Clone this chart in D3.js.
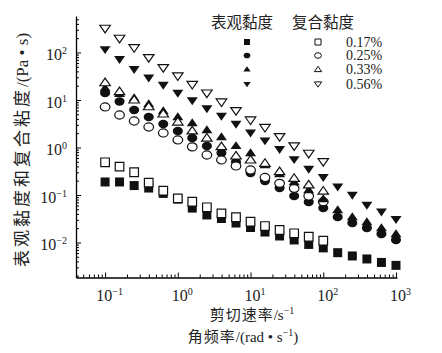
<!DOCTYPE html>
<html>
<head>
<meta charset="utf-8">
<script src="https://cdn.jsdelivr.net/npm/d3@7"></script>
<style>
  body { margin: 0; background: #fff; }
  svg { display: block; }
</style>
</head>
<body>
<script>
const width = 442;
const height = 353;

// shear rate / angular frequency (s^-1)
const rates = [0.1, 0.158, 0.251, 0.398, 0.631, 1, 1.58, 2.51, 3.98, 6.31, 10,
               15.8, 25.1, 39.8, 63.1, 100, 158, 251, 398, 631, 1000];

// apparent viscosity (filled), Pa·s
const apparent017 = [0.188, 0.188, 0.158, 0.140, 0.108, 0.082, 0.053, 0.038, 0.032, 0.0257, 0.0207,
                     0.0166, 0.0137, 0.0113, 0.0091, 0.0077, 0.0061, 0.0052, 0.0045, 0.0038, 0.0033];
const apparent025 = [14.0, 9.30, 6.15, 4.39, 3.12, 2.23, 1.58, 1.08, 0.766, 0.495, 0.290,
                     0.197, 0.140, 0.095, 0.071, 0.053, 0.0344, 0.0258, 0.0202, 0.0151, 0.0113];
const apparent033 = [17.9, 13.4, 11.0, 8.24, 5.86, 4.39, 3.28, 2.33, 1.66, 1.08, 0.766,
                     0.428, 0.277, 0.188, 0.127, 0.082, 0.0483, 0.0344, 0.0270, 0.0202, 0.0151];
const apparent056 = [116.7, 72, 44.3, 29.4, 20.7, 14.0, 9.75, 6.62, 4.60, 3.12, 2.05,
                     1.40, 0.917, 0.564, 0.352, 0.236, 0.150, 0.100, 0.0616, 0.0445, 0.0308];

// complex viscosity (open), Pa·s
const complex017 = [0.488, 0.395, 0.301, 0.182, 0.123, 0.085, 0.072, 0.055, 0.041, 0.034, 0.0274,
                    0.0222, 0.0183, 0.0156, 0.0132, 0.0109];
const complex025 = [7.13, 4.83, 3.61, 2.70, 2.02, 1.44, 1.03, 0.695, 0.546, 0.408, 0.336,
                    0.234, 0.176, 0.138, 0.095, 0.072];
const complex033 = [23.1, 15.0, 10.0, 7.22, 5.07, 3.44, 2.23, 1.58, 1.04, 0.662, 0.546,
                    0.465, 0.310, 0.225, 0.163, 0.121];
const complex056 = [323, 199, 126, 77.8, 47.9, 32.0, 21.2, 14.0, 9.07, 5.96, 3.79,
                    2.64, 1.69, 1.08, 0.755, 0.503];

const concentrations = ['0.17%', '0.25%', '0.33%', '0.56%'];
const shapes = ['square', 'circle', 'up', 'down'];
const apparentSeries = [apparent017, apparent025, apparent033, apparent056];
const complexSeries = [complex017, complex025, complex033, complex056];

const serif = '"Liberation Serif", "Times New Roman", serif';
const cjk = '"Noto Sans CJK SC", sans-serif';

let svg = d3.select('body')
            .append('svg')
            .attr('width', width)
            .attr('height', height);

let xScale = d3.scaleLog()
               .domain([Math.pow(10, -1.4), Math.pow(10, 3.014)])
               .range([76, 397]);

let yScale = d3.scaleLog()
               .domain([Math.pow(10, -2.737), Math.pow(10, 2.768)])
               .range([277.5, 16]);

function logTicks(scale){
    let [a, b] = scale.domain();
    let out = [];
    for(let n = -4; n <= 4; n++){
        for(let k = 1; k <= 9; k++){
            let v = k * Math.pow(10, n);
            if(v >= a * 0.999 && v <= b * 1.001) out.push(v);
        }
    }
    return out;
}
const isMajor = v => Math.abs(Math.log10(v) - Math.round(Math.log10(v))) < 1e-6;

function supLabel(sel, v){
    let e = Math.round(Math.log10(v));
    sel.text(null);
    sel.append('tspan').text('10');
    sel.append('tspan')
       .attr('dy', -6)
       .attr('font-size', 10)
       .text(e < 0 ? '\u2212' + (-e) : e);
}

// x axis
let xAxis = d3.axisBottom(xScale)
              .tickValues(logTicks(xScale))
              .tickSizeInner(-3)
              .tickSizeOuter(0)
              .tickPadding(12)
              .tickFormat(d => isMajor(d) ? 'x' : '');
let gx = svg.append('g')
   .attr('transform', `translate(0, 277.5)`)
   .call(xAxis);
gx.selectAll('.tick line').attr('y2', d => isMajor(d) ? -5 : -3).attr('stroke-width', 1);
gx.select('.domain').attr('stroke-width', 1.3);
gx.selectAll('.tick text')
  .attr('font-family', serif)
  .attr('font-size', 16)
  .attr('fill', '#222')
  .attr('dx', 4)
  .each(function(d){ if(isMajor(d)) supLabel(d3.select(this), d); });

// y axis
let yAxis = d3.axisLeft(yScale)
              .tickValues(logTicks(yScale))
              .tickSizeInner(-3)
              .tickSizeOuter(0)
              .tickPadding(12)
              .tickFormat(d => isMajor(d) ? 'x' : '');
let gy = svg.append('g')
   .attr('transform', `translate(76, 0)`)
   .call(yAxis);
gy.selectAll('.tick line').attr('x2', d => isMajor(d) ? 5 : 3).attr('stroke-width', 1);
gy.select('.domain').attr('stroke-width', 1.3);
gy.selectAll('.tick text')
  .attr('font-family', serif)
  .attr('font-size', 16)
  .attr('fill', '#222')
  .attr('x', -9)
  .attr('dy', '0.45em')
  .each(function(d){ if(isMajor(d)) supLabel(d3.select(this), d); });

// marker paths
function markerPath(shape, s){
    if(shape === 'square'){
        return `M${-s/2},${-s/2}h${s}v${s}h${-s}Z`;
    }
    if(shape === 'circle'){
        let rx = s * 0.56, ry = s * 0.47;
        return `M${-rx},0a${rx},${ry} 0 1,0 ${2*rx},0a${rx},${ry} 0 1,0 ${-2*rx},0Z`;
    }
    let w = s * 1.22, h = s * 0.88;
    if(shape === 'up'){
        return `M0,${-h*0.6}L${w/2},${h*0.4}L${-w/2},${h*0.4}Z`;
    }
    return `M0,${h*0.6}L${w/2},${-h*0.4}L${-w/2},${-h*0.4}Z`;
}

let plot = svg.append('g');

apparentSeries.forEach((series, i) => {
    // filled markers first, then open markers on top
    plot.append('g')
        .selectAll('path')
        .data(series)
        .enter()
        .append('path')
        .attr('d', markerPath(shapes[i], 9))
        .attr('transform', (d, j) => `translate(${xScale(rates[j])}, ${yScale(d)})`)
        .attr('fill', '#111');

    plot.append('g')
        .selectAll('path')
        .data(complexSeries[i])
        .enter()
        .append('path')
        .attr('d', markerPath(shapes[i], 8.6))
        .attr('transform', (d, j) => `translate(${xScale(rates[j])}, ${yScale(d)})`)
        .attr('fill', '#fff')
        .attr('stroke', '#111')
        .attr('stroke-width', 1.2);
});

// legend
let legend = svg.append('g');
legend.append('text')
      .attr('x', 211).attr('y', 28)
      .attr('font-family', cjk).attr('font-size', 15.5).attr('fill', '#222')
      .text('表观黏度');
legend.append('text')
      .attr('x', 292).attr('y', 28)
      .attr('font-family', cjk).attr('font-size', 15.5).attr('fill', '#222')
      .text('复合黏度');

const rowY = [42, 55.5, 69.5, 84];
concentrations.forEach((c, i) => {
    legend.append('path')
          .attr('d', markerPath(shapes[i], 6))
          .attr('transform', `translate(247, ${rowY[i]})`)
          .attr('fill', '#111');
    legend.append('path')
          .attr('d', markerPath(shapes[i], 6))
          .attr('transform', `translate(318, ${rowY[i]})`)
          .attr('fill', '#fff')
          .attr('stroke', '#111')
          .attr('stroke-width', 1);
    legend.append('text')
          .attr('x', 346).attr('y', rowY[i] + 4.5)
          .attr('font-family', serif).attr('font-size', 14).attr('fill', '#222')
          .text(c);
});

// axis titles
let yt = svg.append('text')
   .attr('transform', 'translate(28, 150) rotate(-90)')
   .attr('text-anchor', 'middle')
   .attr('font-family', cjk).attr('font-size', 17).attr('fill', '#222');
yt.append('tspan').attr('letter-spacing', 3).text('表观黏度和复合粘度');
yt.append('tspan').attr('font-family', serif).text('/(Pa • s)');

let xt1 = svg.append('text')
   .attr('x', 252).attr('y', 320)
   .attr('text-anchor', 'middle')
   .attr('font-family', cjk).attr('font-size', 15).attr('fill', '#222');
xt1.append('tspan').attr('letter-spacing', 1).text('剪切速率');
xt1.append('tspan').attr('font-family', serif).text('/s');
xt1.append('tspan').attr('font-family', serif).attr('font-size', 10).attr('dy', -6).text('\u22121');

let xt2 = svg.append('text')
   .attr('x', 243).attr('y', 342)
   .attr('text-anchor', 'middle')
   .attr('font-family', cjk).attr('font-size', 15).attr('fill', '#222');
xt2.append('tspan').attr('letter-spacing', 1).text('角频率');
xt2.append('tspan').attr('font-family', serif).text('/(rad • s');
xt2.append('tspan').attr('font-family', serif).attr('font-size', 10).attr('dy', -6).text('\u22121');
xt2.append('tspan').attr('font-family', serif).attr('dy', 6).text(')');
</script>
</body>
</html>
